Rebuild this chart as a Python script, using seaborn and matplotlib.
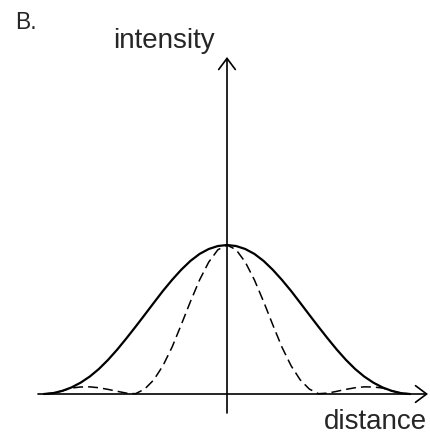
import pandas as pd
import matplotlib
matplotlib.use("Agg")
import matplotlib.pyplot as plt
import seaborn as sns

# half-profile (distance from centre, relative intensity)
offsets = [0.00, 0.05, 0.10, 0.15, 0.20, 0.25, 0.30, 0.35, 0.40, 0.45, 0.50,
           0.55, 0.60, 0.65, 0.70, 0.75, 0.80, 0.85, 0.90, 0.95, 1.00]
solid_half = [1.000, 0.993, 0.973, 0.940, 0.893, 0.834, 0.766, 0.692, 0.612, 0.531, 0.451,
              0.373, 0.298, 0.229, 0.168, 0.117, 0.076, 0.044, 0.021, 0.006, 0.000]
dashed_half = [1.000, 0.968, 0.885, 0.765, 0.620, 0.465, 0.315, 0.190, 0.095, 0.033, 0.002,
               0.006, 0.018, 0.031, 0.042, 0.048, 0.047, 0.040, 0.021, 0.006, 0.000]

x_axis_label = "distance"
y_axis_label = "intensity"
panel_label = "B."

# mirror the half profiles to the left side
xs = [-o for o in offsets[::-1]] + offsets[1:]
solid = solid_half[::-1] + solid_half[1:]
dashed = dashed_half[::-1] + dashed_half[1:]
df = pd.DataFrame({"distance": xs, "solid": solid, "dashed": dashed})

sns.set_style("white")
plt.rcParams["font.family"] = ["Liberation Sans", "DejaVu Sans"]

W, H = 430, 436
fig = plt.figure(figsize=(W / 100, H / 100), dpi=100)
ax = fig.add_axes([0, 0, 1, 1])

# pixel mapping: centre at x=227px, baseline at y=394px from top
sx, sy = 183.0, 149.0
x0, y0 = 227.0, 394.0
ax.set_xlim(-x0 / sx, (W - x0) / sx)
ax.set_ylim(-(H - y0) / sy, y0 / sy)
ax.axis("off")

sns.lineplot(data=df, x="distance", y="solid", ax=ax, color="black", lw=1.6, sort=False)
sns.lineplot(data=df, x="distance", y="dashed", ax=ax, color="black", lw=1.1,
             linestyle=(0, (6.5, 3.3)), sort=False)

arrow = dict(arrowstyle="->,head_length=0.4,head_width=0.3", lw=1.2, color="black",
             shrinkA=0, shrinkB=0, mutation_scale=20)
ax.annotate("", xy=((428 - x0) / sx, 0), xytext=((38 - x0) / sx, 0), arrowprops=arrow)
ax.annotate("", xy=(0, (y0 - 57) / sy), xytext=(0, (y0 - 413) / sy), arrowprops=arrow)

fig.text(113 / W, 1 - 48 / H, y_axis_label, fontsize=20, ha="left", va="baseline")
fig.text(427 / W, 1 - 435 / H, x_axis_label, fontsize=20, ha="right", va="bottom")
fig.text(15 / W, 1 - 29 / H, panel_label, fontsize=16.5, ha="left", va="baseline")

fig.savefig("out.png", dpi=100)
